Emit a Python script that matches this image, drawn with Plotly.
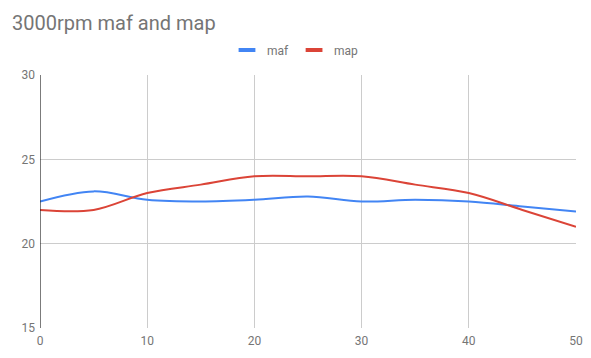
import plotly.graph_objects as go

x = [0, 5, 10, 15, 20, 25, 30, 35, 40, 45, 50]
maf = [22.5, 23.1, 22.6, 22.5, 22.6, 22.8, 22.5, 22.6, 22.5, 22.2, 21.9]
map_ = [22.0, 22.0, 23.0, 23.5, 24.0, 24.0, 24.0, 23.5, 23.0, 22.0, 21.0]
x_ticks = [0, 10, 20, 30, 40, 50]
y_ticks = [15, 20, 25, 30]

colors = {"maf": "#4285F4", "map": "#DB4437"}

fig = go.Figure()
for name, vals in (("maf", maf), ("map", map_)):
    fig.add_trace(go.Scatter(x=x, y=vals, name=name, mode="lines", showlegend=False,
                             line=dict(color=colors[name], width=2, shape="spline", smoothing=1.0)))
for name in ("maf", "map"):
    fig.add_trace(go.Scatter(x=[None], y=[None], name=name, mode="markers", showlegend=True,
                             marker=dict(symbol="line-ew", size=12,
                                         line=dict(width=4, color=colors[name]))))

fig.update_layout(
    template="none",
    width=591, height=358,
    paper_bgcolor="white", plot_bgcolor="white",
    font=dict(family="Roboto, Arial, sans-serif", color="#757575", size=12),
    title=dict(text="3000rpm maf and map", x=12/591, xanchor="left", xref="container",
               y=1 - 23/358, yanchor="middle", yref="container",
               font=dict(size=20, color="#757575")),
    margin=dict(l=39.5, r=15, t=75, b=30, autoexpand=False),
    showlegend=True,
    legend=dict(orientation="h", x=0.5, xanchor="center", xref="container",
                y=1 - 50/358, yref="container",
                yanchor="middle", font=dict(size=12, color="#757575"),
                itemwidth=30, tracegroupgap=0, bgcolor="rgba(0,0,0,0)"),
    xaxis=dict(range=[0, 50], tickvals=x_ticks, showgrid=True, gridcolor="#cccccc", gridwidth=1,
               zeroline=False, showline=False, ticks="", automargin=False,
               ticklabelstandoff=4, tickfont=dict(size=12, color="#757575")),
    yaxis=dict(range=[15, 30], tickvals=y_ticks, showgrid=True, gridcolor="#cccccc", gridwidth=1,
               zeroline=False, showline=False, ticks="", automargin=False,
               ticklabelstandoff=4, tickfont=dict(size=12, color="#757575")),
)
# baseline at x=0
fig.add_shape(type="line", xref="x", yref="paper", x0=0, x1=0, y0=0, y1=1,
              line=dict(color="#222222", width=1.2))

fig.write_html("out.html", config={"displayModeBar": False},
               post_script="document.body.style.margin='0px';")
